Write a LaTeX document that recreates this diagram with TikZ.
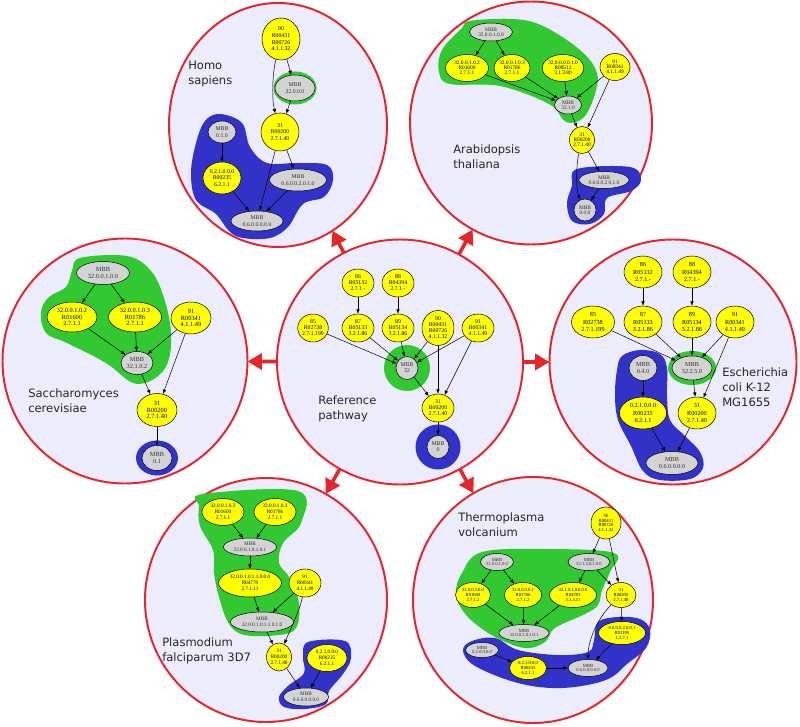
\documentclass[tikz,border=0pt]{standalone}
\usepackage{fontspec}
\setmainfont{Liberation Serif}
\newfontfamily\labelfont{DejaVu Sans}
\usetikzlibrary{shapes.geometric,arrows.meta}
\definecolor{orgfill}{RGB}{236,236,252}
\definecolor{orgred}{RGB}{228,38,44}
\definecolor{blobgreen}{RGB}{50,200,50}
\definecolor{blobblue}{RGB}{50,50,200}
\definecolor{mbbgray}{RGB}{211,211,211}
\definecolor{yelfill}{RGB}{255,255,0}
\newcommand{\nodefont}{\fontsize{4.1}{4.3}\selectfont}
\tikzset{
  sz/.style 2 args={minimum width=#1*0.025cm, minimum height=#2*0.025cm},
  organism/.style={ellipse, draw=orgred, line width=1.4pt, fill=orgfill, inner sep=0pt, outer sep=0pt},
  bigarrow/.style={-{Triangle[length=3.6mm, width=4mm]}, line width=0.9mm, orgred},
  yel/.style={ellipse, draw, line width=0.35pt, fill=yelfill, inner sep=0pt, align=center, font=\nodefont},
  mbb/.style={ellipse, draw, line width=0.35pt, fill=mbbgray, inner sep=0pt, align=center, font=\nodefont, text=black!80},
  link/.style={-{Latex[length=1.1mm, width=0.9mm]}, line width=0.35pt},
  grnblob/.style={fill=blobgreen},
  blublob/.style={fill=blobblue},
  orglabel/.style={anchor=west, align=left, font=\labelfont\fontsize{8.2}{10.6}\selectfont, text=black!85, inner sep=0pt}
}

\begin{document}
\begin{tikzpicture}[x=0.025cm, y=-0.025cm]
  \fill[white] (0,0) rectangle (800,727);
  \useasboundingbox (0,0) rectangle (800,727);

  % organisms
  \node[organism, sz={218}{244}] (hs) at (278,125) {};
  \node[organism, sz={242}{243}] (at) at (531,123) {};
  \node[organism, sz={245}{245}] (sc) at (125,361) {};
  \node[organism, sz={246}{245}] (ref) at (400,362) {};
  \node[organism, sz={247}{245}] (ec) at (673,362) {};
  \node[organism, sz={242}{244}] (pf) at (266,600) {};
  \node[organism, sz={240}{246}] (tv) at (533,600) {};

  \draw[bigarrow] (ref) -- (hs);
  \draw[bigarrow] (ref) -- (at);
  \draw[bigarrow] (ref) -- (sc);
  \draw[bigarrow] (ref) -- (ec);
  \draw[bigarrow] (ref) -- (pf);
  \draw[bigarrow] (ref) -- (tv);

  % Homo sapiens
  \begin{scope}
    \renewcommand{\nodefont}{\fontsize{4.1}{4.7}\selectfont}
    \fill[blublob] plot[smooth cycle, tension=0.6] coordinates {(220,114) (242,123) (250,147) (267,163) (297,163) (327,165) (333,180) (324,197) (303,204) (288,227) (270,238) (243,238) (229,231) (216,214) (196,200) (191,173) (196,143) (205,121)};
    \fill[blobgreen] (295,88) ellipse [x radius=21.5, y radius=16.5];
    \node[yel, sz={38}{42}] (h90) at (281,39) {90\\R00431\\R00726\\4.1.1.32};
    \node[mbb, sz={40}{26}] (hmbb32) at (295,88) {MBB\\32.0.0.0};
    \node[yel, sz={38}{38}] (h31) at (280,132) {31\\R00200\\2.7.1.40};
    \node[mbb, sz={28}{22}] (hmbb01) at (222,132) {MBB\\0.1.0};
    \node[yel, sz={38}{32}] (h0210) at (222,178) {0.2.1.0.0.0\\R00235\\6.2.1.1};
    \node[mbb, sz={57}{22}] (hmbb0602) at (298,180) {MBB\\0.6.0.0.2.0.1.0};
    \node[mbb, sz={52}{20}] (hmbb06) at (257,221) {MBB\\0.6.0.0.0.0.0};
    \draw[link] (h90) -- (hmbb32);
    \draw[link] (h90) .. controls (272,75) and (272,100) .. (h31);
    \draw[link] (hmbb32) -- (h31);
    \draw[link] (hmbb01) -- (h0210);
    \draw[link] (h31) -- (hmbb06);
    \draw[link] (h31) -- (hmbb0602);
    \draw[link] (h0210) -- (hmbb06);
    \draw[link] (hmbb0602) -- (hmbb06);
    \node[orglabel] (hslabel) at (188,74) {Homo\\sapiens};
  \end{scope}

  % Arabidopsis thaliana
  \begin{scope}
    \renewcommand{\nodefont}{\fontsize{3.8}{3.6}\selectfont}
    \fill[grnblob] plot[smooth cycle, tension=0.6] coordinates {(470,21) (513,19) (543,26) (580,50) (597,73) (594,97) (583,118) (566,122) (549,104) (500,86) (450,84) (439,72) (442,50) (462,28)};
    \fill[blublob] plot[smooth cycle, tension=0.6] coordinates {(577,169) (630,167) (641,180) (631,191) (607,198) (604,214) (590,224) (572,221) (567,203) (572,186)};
    \node[mbb, sz={43}{18}] (ambb) at (491,32) {MBB\\32.0.0.1.0.0};
    \node[yel, sz={43}{27}] (a3200102) at (467,68) {32.0.0.1.0.2\\R01600\\2.7.1.1};
    \node[yel, sz={35}{27}] (a3200103) at (512,68) {32.0.0.1.0.3\\R01786\\2.7.1.1};
    \node[yel, sz={38}{27}] (a3200001) at (563,68) {32.0.0.0.0.1.0\\R09512\\3.1.3.80};
    \node[yel, sz={30}{27}] (a91) at (615,67) {91\\R00341\\4.1.1.49};
    \node[mbb, sz={27}{18}] (ambb3210) at (568,105) {MBB\\32.1.0};
    \node[yel, sz={25}{27}] (a31) at (582,140) {31\\R00200\\2.7.1.40};
    \node[mbb, sz={50}{17}] (ambb06002) at (604,180) {MBB\\0.6.0.0.2.0.1.0};
    \node[mbb, sz={22}{22}] (ambb00) at (585,210) {MBB\\0.0.0};
    \draw[link] (ambb) -- (a3200102);
    \draw[link] (ambb) -- (a3200103);
    \draw[link] (a3200102) -- (ambb3210);
    \draw[link] (a3200103) -- (ambb3210);
    \draw[link] (a3200001) -- (ambb3210);
    \draw[link] (a91) -- (ambb3210);
    \draw[link] (a91) -- (a31);
    \draw[link] (ambb3210) -- (a31);
    \draw[link] (a31) -- (ambb06002);
    \draw[link] (a31) .. controls (576,165) and (576,190) .. (ambb00);
    \draw[link] (ambb06002) -- (ambb00);
    \node[orglabel] (atlabel) at (453,157) {Arabidopsis\\thaliana};
  \end{scope}

  % Saccharomyces cerevisiae
  \begin{scope}
    \renewcommand{\nodefont}{\fontsize{4.5}{4.5}\selectfont}
    \fill[grnblob] plot[smooth cycle, tension=0.6] coordinates {(80,258) (127,256) (151,271) (164,298) (171,332) (168,362) (154,379) (133,383) (106,363) (67,343) (46,333) (41,312) (49,297) (66,287) (72,271)};
    \fill[blobblue] (157,458) ellipse [x radius=21, y radius=17.5];
    \node[mbb, sz={53}{23}] (smbb) at (103,273) {MBB\\32.0.0.1.0.0};
    \node[yel, sz={50}{30}] (s3200102) at (72,317) {32.0.0.1.0.2\\R01600\\2.7.1.1};
    \node[yel, sz={53}{30}] (s3200103) at (135,317) {32.0.0.1.0.3\\R01786\\2.7.1.1};
    \node[yel, sz={40}{32}] (s91) at (191,318) {91\\R00341\\4.1.1.49};
    \node[mbb, sz={32}{23}] (smbb32102) at (137,363) {MBB\\32.1.0.2};
    \node[yel, sz={40}{33}] (s31) at (157,410) {31\\R00200\\2.7.1.40};
    \node[mbb, sz={30}{25}] (smbb01) at (157,458) {MBB\\0.1};
    \draw[link] (smbb) -- (s3200102);
    \draw[link] (smbb) -- (s3200103);
    \draw[link] (s3200102) -- (smbb32102);
    \draw[link] (s3200103) -- (smbb32102);
    \draw[link] (s91) -- (smbb32102);
    \draw[link] (s91) -- (s31);
    \draw[link] (smbb32102) -- (s31);
    \draw[link] (s31) -- (smbb01);
    \node[orglabel] (sclabel) at (28,401) {Saccharomyces\\cerevisiae};
  \end{scope}

  % Reference pathway
  \begin{scope}
    \renewcommand{\nodefont}{\fontsize{4.1}{4.3}\selectfont}
    \fill[blobgreen] (407,368) circle [radius=23];
    \fill[blobblue] (438,447) circle [radius=22.5];
    \node[yel, sz={32}{28}] (r86) at (358,283) {86\\R05132\\2.7.1.-};
    \node[yel, sz={32}{28}] (r88) at (398,283) {88\\R04394\\2.7.1.-};
    \node[yel, sz={27}{28}] (r85) at (313,328) {85\\R02738\\2.7.1.199};
    \node[yel, sz={32}{28}] (r87) at (358,328) {87\\R05133\\3.2.1.86};
    \node[yel, sz={32}{28}] (r89) at (398,328) {89\\R05134\\3.2.1.86};
    \node[yel, sz={32}{35}] (r90) at (438,328) {90\\R00431\\R00726\\4.1.1.32};
    \node[yel, sz={32}{28}] (r91) at (478,328) {91\\R00341\\4.1.1.49};
    \node[mbb, sz={22}{23}] (rmbb32) at (407,368) {MBB\\32};
    \node[yel, sz={32}{28}] (r31) at (438,408) {31\\R00200\\2.7.1.40};
    \node[mbb, sz={22}{23}] (rmbb0) at (438,447) {MBB\\0};
    \draw[link] (r86) -- (r87);
    \draw[link] (r88) -- (r89);
    \draw[link] (r85) -- (rmbb32);
    \draw[link] (r87) -- (rmbb32);
    \draw[link] (r89) -- (rmbb32);
    \draw[link] (r90) -- (rmbb32);
    \draw[link] (r91) -- (rmbb32);
    \draw[link] (r90) -- (r31);
    \draw[link] (r91) -- (r31);
    \draw[link] (rmbb32) -- (r31);
    \draw[link] (r31) -- (rmbb0);
    \node[orglabel] (reflabel) at (318,409) {Reference\\pathway};
  \end{scope}

  % Escherichia coli K-12 MG1655
  \begin{scope}
    \renewcommand{\nodefont}{\fontsize{4.4}{5}\selectfont}
    \fill[blublob] plot[smooth cycle, tension=0.6] coordinates {(617,370) (622,356) (640,350) (660,354) (667,368) (667,395) (670,420) (685,436) (700,452) (703,468) (690,479) (660,480) (643,471) (631,446) (618,420) (615,395)};
    \fill[blobgreen] (692,368) ellipse [x radius=24, y radius=17];
    \node[yel, sz={38}{32}] (e86) at (643,272) {86\\R05132\\2.7.1.-};
    \node[yel, sz={38}{32}] (e88) at (692,272) {88\\R04394\\2.7.1.-};
    \node[yel, sz={43}{32}] (e85) at (593,322) {85\\R02738\\2.7.1.199};
    \node[yel, sz={38}{32}] (e87) at (643,322) {87\\R05133\\3.2.1.86};
    \node[yel, sz={38}{32}] (e89) at (692,322) {89\\R05134\\3.2.1.86};
    \node[yel, sz={38}{32}] (e91) at (735,322) {91\\R00341\\4.1.1.49};
    \node[mbb, sz={40}{24}] (embb3225) at (692,368) {MBB\\32.2.5.0};
    \node[mbb, sz={28}{25}] (embb040) at (643,368) {MBB\\0.4.0};
    \node[yel, sz={47}{32}] (e0210) at (643,413) {0.2.1.0.0.0\\R00235\\6.2.1.1};
    \node[yel, sz={38}{32}] (e31) at (697,413) {31\\R00200\\2.7.1.40};
    \node[mbb, sz={52}{23}] (embb06) at (672,463) {MBB\\0.6.0.0.0.0};
    \draw[link] (e86) -- (e87);
    \draw[link] (e88) -- (e89);
    \draw[link] (e85) -- (embb3225);
    \draw[link] (e87) -- (embb3225);
    \draw[link] (e89) -- (embb3225);
    \draw[link] (e91) -- (embb3225);
    \draw[link] (e91) -- (e31);
    \draw[link] (embb3225) -- (e31);
    \draw[link] (embb040) -- (e0210);
    \draw[link] (e0210) -- (embb06);
    \draw[link] (e31) -- (embb06);
    \node[orglabel] (eclabel) at (722,387) {Escherichia\\coli K-12\\MG1655};
  \end{scope}

  % Plasmodium falciparum 3D7
  \begin{scope}
    \renewcommand{\nodefont}{\fontsize{3.7}{4.2}\selectfont}
    \fill[grnblob] plot[smooth cycle, tension=0.6] coordinates {(203,494) (298,491) (301,523) (283,543) (279,563) (289,577) (299,603) (296,628) (279,635) (245,635) (229,624) (219,597) (214,573) (213,550) (200,526) (199,506)};
    \fill[blublob] plot[smooth cycle, tension=0.6] coordinates {(308,642) (345,641) (351,658) (343,674) (329,691) (326,704) (305,709) (284,707) (279,697) (288,686) (304,673) (303,657)};
    \node[yel, sz={42}{27}] (p3200102) at (223,512) {32.0.0.1.0.2\\R01600\\2.7.1.1};
    \node[yel, sz={42}{27}] (p3200103) at (275,512) {32.0.0.1.0.3\\R01786\\2.7.1.1};
    \node[mbb, sz={53}{18}] (pmbb) at (250,547) {MBB\\32.0.0.1.0.1.0.1};
    \node[yel, sz={63}{28}] (p3200110) at (250,583) {32.0.0.1.0.1.1.0.0.0\\R04779\\2.7.1.11};
    \node[yel, sz={32}{28}] (p91) at (305,583) {91\\R00341\\4.1.1.49};
    \node[mbb, sz={63}{20}] (pmbb2) at (262,622) {MBB\\32.0.0.1.0.1.1.0.1.0};
    \node[yel, sz={25}{28}] (p31) at (279,657) {31\\R00200\\2.7.1.40};
    \node[yel, sz={40}{27}] (p0210) at (327,658) {0.2.1.0.0.0\\R00235\\6.2.1.1};
    \node[mbb, sz={45}{18}] (pmbb06) at (306,697) {MBB\\0.6.0.0.0.0.0};
    \draw[link] (p3200102) -- (pmbb);
    \draw[link] (p3200103) -- (pmbb);
    \draw[link] (pmbb) -- (p3200110);
    \draw[link] (p3200110) -- (pmbb2);
    \draw[link] (p91) -- (pmbb2);
    \draw[link] (p91) .. controls (300,610) and (290,630) .. (p31);
    \draw[link] (pmbb2) -- (p31);
    \draw[link] (p31) -- (pmbb06);
    \draw[link] (p0210) -- (pmbb06);
    \node[orglabel] (pflabel) at (162,651) {Plasmodium\\falciparum 3D7};
  \end{scope}

  % Thermoplasma volcanium
  \begin{scope}
    \renewcommand{\nodefont}{\fontsize{3.3}{3.4}\selectfont}
    \fill[grnblob] plot[smooth cycle, tension=0.6] coordinates {(462,573) (482,552) (545,549) (614,553) (610,572) (602,590) (598,605) (585,614) (555,628) (545,642) (525,648) (495,637) (468,617) (456,595)};
    \fill[blublob] plot[smooth cycle, tension=0.6] coordinates {(463,650) (472,641) (495,638) (518,650) (558,655) (588,652) (594,640) (598,622) (618,617) (640,619) (650,630) (646,648) (627,664) (612,677) (592,684) (562,688) (532,686) (502,678) (472,664)};
    \node[yel, sz={30}{32}] (t90) at (606,523) {90\\R00431\\R00726\\4.1.1.32};
    \node[mbb, sz={33}{17}] (tmbb1) at (497,562) {MBB\\32.0.0.1.0.0};
    \node[mbb, sz={42}{17}] (tmbb2) at (589,562) {MBB\\32.1.2.0.1.0.0};
    \node[yel, sz={35}{25}] (t3200300) at (473,595) {32.0.0.3.0.0\\R01600\\2.7.1.2};
    \node[yel, sz={37}{25}] (t3200301) at (523,595) {32.0.0.3.0.1\\R01786\\2.7.1.2};
    \node[yel, sz={47}{25}] (t3210100) at (573,595) {32.1.0.1.0.0.0.0\\R04783\\3.1.3.11};
    \node[yel, sz={30}{25}] (t31) at (621,595) {31\\R00200\\2.7.1.40};
    \node[mbb, sz={50}{17}] (tmbb3) at (524,633) {MBB\\32.0.0.1.0.1.0.1};
    \node[yel, sz={47}{23}] (t0600200) at (622,633) {0.6.0.0.2.0.0.1\\R01196\\1.2.7.1};
    \node[mbb, sz={33}{15}] (tmbb4) at (482,650) {MBB\\0.2.0.0.0.0};
    \node[yel, sz={37}{23}] (t0210) at (528,668) {0.2.1.0.0.0\\R00235\\6.2.1.1};
    \node[mbb, sz={40}{17}] (tmbb5) at (588,668) {MBB\\0.6.0.0.0.0.0};
    \draw[link] (t90) -- (tmbb2);
    \draw[link] (t90) -- (t31);
    \draw[link] (tmbb1) -- (t3200300);
    \draw[link] (tmbb1) -- (t3200301);
    \draw[link] (tmbb2) -- (t3210100);
    \draw[link] (tmbb2) -- (t31);
    \draw[link] (t3200300) -- (tmbb3);
    \draw[link] (t3200301) -- (tmbb3);
    \draw[link] (t3210100) -- (tmbb3);
    \draw[link] (t31) -- (t0600200);
    \draw[link] (t31) .. controls (598,618) and (588,640) .. (tmbb5);
    \draw[link] (t0600200) -- (tmbb5);
    \draw[link] (tmbb4) -- (t0210);
    \draw[link] (t0210) -- (tmbb5);
    \node[orglabel] (tvlabel) at (458,525) {Thermoplasma\\volcanium};
  \end{scope}
\end{tikzpicture}
\end{document}
